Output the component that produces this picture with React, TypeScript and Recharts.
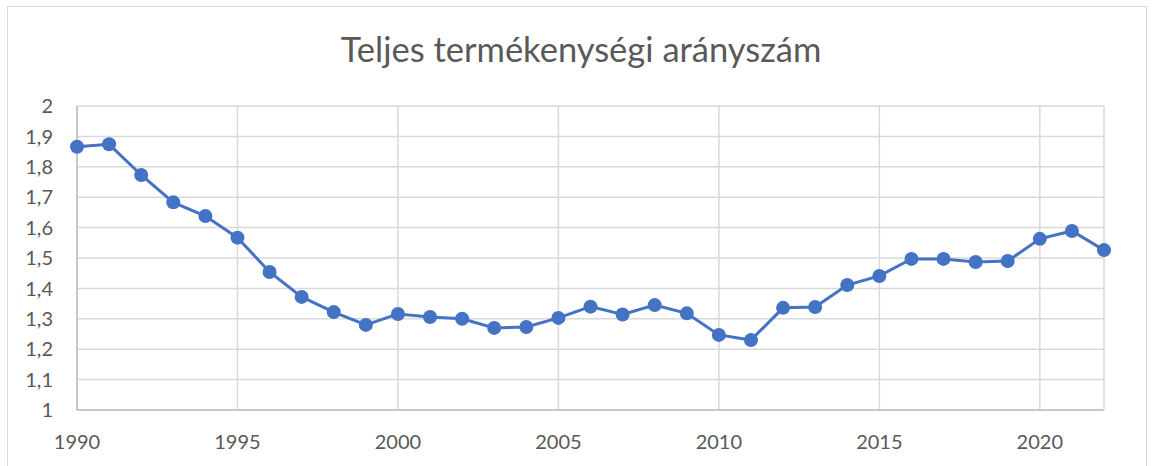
import { CartesianGrid, Line, LineChart, XAxis, YAxis } from "recharts";

const years = [
  1990, 1991, 1992, 1993, 1994, 1995, 1996, 1997, 1998, 1999, 2000, 2001,
  2002, 2003, 2004, 2005, 2006, 2007, 2008, 2009, 2010, 2011, 2012, 2013,
  2014, 2015, 2016, 2017, 2018, 2019, 2020, 2021, 2022,
];
const fertility = [
  1.866, 1.874, 1.773, 1.683, 1.638, 1.567, 1.454, 1.372, 1.322, 1.28, 1.316,
  1.306, 1.3, 1.27, 1.273, 1.303, 1.34, 1.314, 1.345, 1.318, 1.247, 1.23,
  1.336, 1.339, 1.411, 1.441, 1.497, 1.497, 1.487, 1.49, 1.563, 1.589, 1.526,
];
const xTicks = [1990, 1995, 2000, 2005, 2010, 2015, 2020];
const yTicks = [1, 1.1, 1.2, 1.3, 1.4, 1.5, 1.6, 1.7, 1.8, 1.9, 2];
const title = "Teljes termékenységi arányszám";

const data = years.map((year, i) => ({ year, value: fertility[i] }));

const font = "Lato, 'Open Sans', sans-serif";
const textColor = "#595959";
const lineColor = "#4472C4";

export default function App() {
  return (
    <div
      style={{
        position: "absolute",
        left: 0,
        top: 0,
        width: 1152,
        height: 466,
        background: "#fff",
        overflow: "hidden",
        fontFamily: font,
      }}
    >
      {/* chart border, bottom edge falls outside the picture */}
      <div
        style={{
          position: "absolute",
          left: 7,
          top: 6,
          width: 1138,
          height: 480,
          border: "1px solid #d9d9d9",
        }}
      />
      <svg
        width={1152}
        height={100}
        style={{ position: "absolute", left: 0, top: 0 }}
      >
        <text
          x={581}
          y={62}
          textAnchor="middle"
          fill={textColor}
          fontSize={34.5}
          fontFamily={font}
        >
          {title}
        </text>
      </svg>
      <div style={{ position: "absolute", left: 0, top: 0 }}>
        <LineChart
          width={1152}
          height={466}
          data={data}
          margin={{ top: 106, right: 48, bottom: 0, left: 0 }}
        >
          <CartesianGrid stroke="#d9d9d9" strokeWidth={1.5} />
          <XAxis
            dataKey="year"
            type="number"
            domain={[1990, 2022]}
            ticks={xTicks}
            height={56}
            axisLine={{ stroke: "#bfbfbf", strokeWidth: 1.5 }}
            tickLine={false}
            tickMargin={19}
            tick={{ fill: textColor, fontSize: 20, fontFamily: font }}
          />
          <YAxis
            type="number"
            domain={[1, 2]}
            ticks={yTicks}
            width={77}
            axisLine={{ stroke: "#bfbfbf", strokeWidth: 1.5 }}
            tickLine={false}
            tickMargin={18}
            tickFormatter={(v: number) => String(v).replace(".", ",")}
            tick={{ fill: textColor, fontSize: 20, fontFamily: font }}
          />
          <Line
            dataKey="value"
            stroke={lineColor}
            strokeWidth={3}
            dot={{ r: 7, fill: lineColor, stroke: lineColor, strokeWidth: 0 }}
            isAnimationActive={false}
          />
        </LineChart>
      </div>
    </div>
  );
}
